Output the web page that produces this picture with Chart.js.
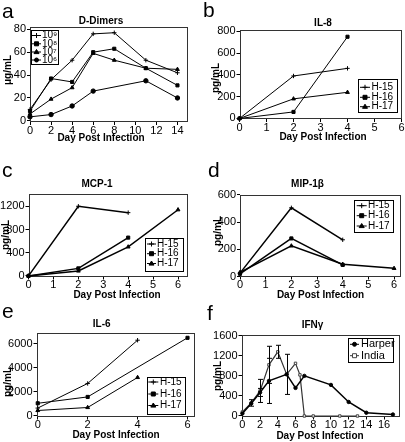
<!DOCTYPE html>
<html><head><meta charset="utf-8">
<script src="https://cdn.jsdelivr.net/npm/chart.js@4"></script>
<style>
body{margin:0;background:#fff;width:405px;height:442px;overflow:hidden;position:relative;font-family:"Liberation Sans",Arial,sans-serif;color:#000;}
canvas{position:absolute;}
.t{position:absolute;white-space:nowrap;transform:translate(-50%,-50%);line-height:1;font-weight:bold;font-size:10px;}
.y{transform:translate(-50%,-50%) rotate(-90deg);}
.lt{position:absolute;font-size:21px;line-height:1;}
</style></head><body>
<canvas id="ca"></canvas><canvas id="cb"></canvas><canvas id="cc"></canvas>
<canvas id="cd"></canvas><canvas id="ce"></canvas><canvas id="cf"></canvas>
<div class="lt" style="left:2px;top:0px">a</div>
<div class="lt" style="left:203px;top:-1px">b</div>
<div class="lt" style="left:2px;top:159px">c</div>
<div class="lt" style="left:208px;top:159px">d</div>
<div class="lt" style="left:2px;top:300px">e</div>
<div class="lt" style="left:207px;top:302px">f</div>
<div class="t" style="left:101px;top:20.5px">D-Dimers</div>
<div class="t" style="left:323px;top:22.5px">IL-8</div>
<div class="t" style="left:97px;top:183.5px">MCP-1</div>
<div class="t" style="left:307.5px;top:183.5px">MIP-1β</div>
<div class="t" style="left:101.7px;top:324px">IL-6</div>
<div class="t" style="left:312.5px;top:324.5px">IFNγ</div>
<div class="t" style="left:101px;top:137.5px">Day Post Infection</div>
<div class="t" style="left:323px;top:137px">Day Post Infection</div>
<div class="t" style="left:117px;top:294.5px">Day Post Infection</div>
<div class="t" style="left:320.5px;top:294.5px">Day Post Infection</div>
<div class="t" style="left:116px;top:434.5px">Day Post Infection</div>
<div class="t" style="left:320px;top:436px">Day Post Infection</div>
<div class="t y" style="left:8px;top:70px">μg/mL</div>
<div class="t y" style="left:216px;top:78px">pg/mL</div>
<div class="t y" style="left:5.5px;top:235px">pg/mL</div>
<div class="t y" style="left:217.5px;top:231px">pg/mL</div>
<div class="t y" style="left:7.5px;top:382px">pg/mL</div>
<div class="t y" style="left:217.5px;top:376px">pg/mL</div>
<script>
// ---------- data ----------
const dimerDays = [0,2,4,6,8,11,14];
const dimer1e9 = [10,36,53,76,77,53,42];
const dimer1e8 = [8.5,37,34,60,63,46,31];
const dimer1e7 = [6,19,29,59,53,46,45];
const dimer1e6 = [3.5,5.5,13,26,null,35,20];
const dimerLabels = ['10⁹','10⁸','10⁷','10⁶'];
const dimerXTicks = [0,2,4,6,8,10,12,14];
const dimerYTicks = [0,20,40,60,80];

const hLabels = ['H-15','H-16','H-17'];

const il8Days = [0,2,4];
const il8H15 = [0,390,460];
const il8H16 = [0,60,750];
const il8H17 = [0,180,240];
const il8XTicks = [0,1,2,3,4,5,6];
const il8YTicks = [0,200,400,600,800];

const mcpDays = [0,2,4,6];
const mcpH15 = [0,1200,1090,null];
const mcpH16 = [0,130,660,null];
const mcpH17 = [0,85,500,1140];
const mcpXTicks = [0,1,2,3,4,5,6];
const mcpYTicks = [0,400,800,1200];

const mipDays = [0,2,4,6];
const mipH15 = [25,505,270,null];
const mipH16 = [20,280,85,null];
const mipH17 = [30,225,90,60];
const mipXTicks = [0,1,2,3,4,5,6];
const mipYTicks = [0,200,400,600];

const il6Days = [0,2,4,6];
const il6H15 = [650,2700,6300,null];
const il6H16 = [1050,1580,null,6500];
const il6H17 = [450,700,3200,null];
const il6XTicks = [0,2,4,6];
const il6YTicks = [0,2000,4000,6000];

const ifnLabels = ['Harper','India'];
const ifnHarperDays = [0,1,2,3,5,6,7,10,12,14,17];
const ifnHarper =     [50,250,470,700,830,560,800,620,280,65,30];
const ifnHarperErr =  [0,0,80,450,0,0,0,0,0,0,0];
const ifnIndiaDays = [0,1,2,3,4,5,6,6.5,7,8,11,13];
const ifnIndia =     [80,260,500,1020,1280,830,1050,820,0,0,0,0];
const ifnIndiaErr =  [0,65,230,370,130,400,0,0,0,0,0,0];
const ifnXTicks = [0,2,4,6,8,10,12,14,16];
const ifnYTicks = [0,400,800,1200,1600];

// ---------- helpers ----------
const FONT = '"Liberation Sans", Arial, sans-serif';
function pts(xs, ys){ const o=[]; xs.forEach((x,i)=>{ if(ys[i]!==null && ys[i]!==undefined) o.push({x:x,y:ys[i]}); }); return o; }
function ds(label, xs, ys, style, opt){
  return Object.assign({label, data:pts(xs,ys), borderColor:'#000', backgroundColor:'#000',
    pointBackgroundColor:'#000', pointBorderColor:'#000', borderWidth:1, pointRadius:2.2,
    pointBorderWidth:1, pointStyle:style, tension:0, clip:false, fill:false}, opt||{});
}
function marker(ctx, style, x, y, r, fillC, strokeC){
  ctx.save(); ctx.fillStyle=fillC; ctx.strokeStyle=strokeC; ctx.lineWidth=1;
  ctx.beginPath();
  if(style==='cross'){ ctx.moveTo(x-r-0.5,y); ctx.lineTo(x+r+0.5,y); ctx.moveTo(x,y-r-0.5); ctx.lineTo(x,y+r+0.5); ctx.stroke(); }
  else if(style==='rect'){ ctx.rect(x-r,y-r,2*r,2*r); ctx.fill(); ctx.stroke(); }
  else if(style==='triangle'){ ctx.moveTo(x,y-r-0.5); ctx.lineTo(x+r+0.5,y+r*0.8); ctx.lineTo(x-r-0.5,y+r*0.8); ctx.closePath(); ctx.fill(); ctx.stroke(); }
  else { ctx.arc(x,y,r,0,Math.PI*2); ctx.fill(); ctx.stroke(); }
  ctx.restore();
}
const frame = {id:'frame', beforeDatasetsDraw(c){ const a=c.chartArea, x=c.ctx; x.save(); x.strokeStyle='#333'; x.lineWidth=1;
  x.strokeRect(Math.round(a.left)+0.5, Math.round(a.top)+0.5, Math.round(a.right)-Math.round(a.left)-1, Math.round(a.bottom)-Math.round(a.top)-1); x.restore(); }};
const errBars = {id:'errBars', afterDatasetsDraw(c, args, o){
  if(!o || !o.sets) return; const x=c.ctx, xs=c.scales.x, ys=c.scales.y;
  x.save(); x.strokeStyle='#000'; x.lineWidth=1;
  o.sets.forEach(s=>{ const d=c.data.datasets[s.ds].data;
    d.forEach((p,j)=>{ const e=s.err[j]; if(!e) return;
      const px=Math.round(xs.getPixelForValue(p.x))+0.5, y1=ys.getPixelForValue(p.y+e), y2=ys.getPixelForValue(p.y-e);
      x.beginPath(); x.moveTo(px,y1); x.lineTo(px,y2); x.moveTo(px-2.5,y1); x.lineTo(px+2.5,y1); x.moveTo(px-2.5,y2); x.lineTo(px+2.5,y2); x.stroke(); });
  });
  x.restore(); }};
const boxLegend = {id:'boxLegend', afterDraw(c, args, o){
  if(!o || !o.box) return; const x=c.ctx, b=o.box, off=o.off;
  x.save();
  x.fillStyle='#fff'; x.fillRect(b[0]-off[0], b[1]-off[1], b[2]-b[0], b[3]-b[1]);
  x.strokeStyle='#000'; x.lineWidth=1; x.strokeRect(Math.round(b[0]-off[0])+0.5, Math.round(b[1]-off[1])+0.5, Math.round(b[2]-b[0]), Math.round(b[3]-b[1]));
  x.font = o.font; x.textBaseline='middle'; x.textAlign='left';
  c.data.datasets.forEach((d,i)=>{
    const y=o.rows[i]-off[1];
    x.beginPath(); x.moveTo(o.lx[0]-off[0], y); x.lineTo(o.lx[1]-off[0], y); x.strokeStyle=d.borderColor; x.lineWidth=1; x.stroke();
    marker(x, d.pointStyle, (o.lx[0]+o.lx[1])/2-off[0], y, 2, d.pointBackgroundColor, d.pointBorderColor);
    x.fillStyle='#000'; x.fillText(d.label, o.tx-off[0], y);
  });
  x.restore(); }};

function mk(id, pos, plot, xr, yr, xt, yt, datasets, legend, err){
  const cv=document.getElementById(id);
  cv.style.left=pos[0]+'px'; cv.style.top=pos[1]+'px';
  cv.width=pos[2]; cv.height=pos[3]; cv.style.width=pos[2]+'px'; cv.style.height=pos[3]+'px';
  legend.off=[pos[0],pos[1]];
  const tickFont={family:FONT,size:11};
  new Chart(cv,{type:'line', data:{datasets},
    options:{responsive:false, animation:false, events:[],
      layout:{autoPadding:false, padding:{left:0, top:plot[1]-pos[1], right:pos[0]+pos[2]-plot[2], bottom:0}},
      plugins:{legend:{display:false}, tooltip:{enabled:false}, boxLegend:legend, errBars:err||{}},
      scales:{
        x:{type:'linear', min:xr[0], max:xr[1], afterFit(s){ s.height=pos[1]+pos[3]-plot[3]; },
           afterBuildTicks(s){ s.ticks=xt.map(v=>({value:v})); },
           grid:{drawOnChartArea:false, drawTicks:true, tickLength:3, color:'#000', lineWidth:1},
           border:{display:false},
           ticks:{font:tickFont, color:'#000', padding:-1, maxRotation:0, autoSkip:false, callback:v=>String(v)}},
        y:{type:'linear', min:yr[0], max:yr[1], afterFit(s){ s.width=plot[0]-pos[0]; },
           afterBuildTicks(s){ s.ticks=yt.map(v=>({value:v})); },
           grid:{drawOnChartArea:false, drawTicks:true, tickLength:3, color:'#000', lineWidth:1},
           border:{display:false},
           ticks:{font:tickFont, color:'#000', padding:1, autoSkip:false, callback:v=>String(v)}}
      }},
    plugins:[frame, errBars, boxLegend]});
}

// a
mk('ca',[0,0,200,145],[30,27,188,122],[0,15],[-1,82],dimerXTicks,dimerYTicks,[
  ds(dimerLabels[0],dimerDays,dimer1e9,'cross'),
  ds(dimerLabels[1],dimerDays,dimer1e8,'rect'),
  ds(dimerLabels[2],dimerDays,dimer1e7,'triangle'),
  ds(dimerLabels[3],dimerDays,dimer1e6,'circle')],
  {box:[31,29.5,58,63], rows:[35.5,43.8,52,60], lx:[32,41], tx:42, font:'10px '+FONT});
// b
mk('cb',[200,0,205,145],[239.5,30,401.5,119],[0,6],[-5,812],il8XTicks,il8YTicks,[
  ds(hLabels[0],il8Days,il8H15,'cross'),
  ds(hLabels[1],il8Days,il8H16,'rect'),
  ds(hLabels[2],il8Days,il8H17,'triangle')],
  {box:[358,79,397,112], rows:[87.3,97.3,106.7], lx:[360,370], tx:371.5, font:'10px '+FONT});
// c
mk('cc',[0,147,200,147],[28.5,193.5,188,276.5],[0,6.4],[-10,1420],mcpXTicks,mcpYTicks,[
  ds(hLabels[0],mcpDays,mcpH15,'cross',{borderWidth:1.5}),
  ds(hLabels[1],mcpDays,mcpH16,'rect',{borderWidth:1.5}),
  ds(hLabels[2],mcpDays,mcpH17,'triangle',{borderWidth:1.5})],
  {box:[145,238.3,183,271], rows:[244,253.7,263.5], lx:[147,156], tx:157, font:'10px '+FONT});
// d
mk('cd',[200,147,205,147],[240,194.5,400.5,276.5],[0,6.25],[0,603],mipXTicks,mipYTicks,[
  ds(hLabels[0],mipDays,mipH15,'cross',{borderWidth:1.5}),
  ds(hLabels[1],mipDays,mipH16,'rect',{borderWidth:1.5}),
  ds(hLabels[2],mipDays,mipH17,'triangle',{borderWidth:1.5})],
  {box:[354,200,393.3,232.3], rows:[205.7,215.7,226], lx:[356.7,366.7], tx:368, font:'10px '+FONT});
// e
mk('ce',[0,295,200,147],[36.5,333,195,416.5],[-0.05,6.3],[-50,6900],il6XTicks,il6YTicks,[
  ds(hLabels[0],il6Days,il6H15,'cross'),
  ds(hLabels[1],il6Days,il6H16,'rect'),
  ds(hLabels[2],il6Days,il6H17,'triangle')],
  {box:[146.7,376.7,185,413.3], rows:[382,394,405.5], lx:[148.3,158.3], tx:160, font:'10px '+FONT});
// f
mk('cf',[200,295,205,147],[241.5,334.5,400,416.5],[-0.1,17.8],[-10,1625],ifnXTicks,ifnYTicks,[
  ds(ifnLabels[0],ifnHarperDays,ifnHarper,'circle',{borderWidth:1.5, pointRadius:1.7}),
  ds(ifnLabels[1],ifnIndiaDays,ifnIndia,'rect',{pointRadius:1.7, pointBackgroundColor:'#fff', pointBorderColor:'#444', borderColor:'#333', borderWidth:1.2})],
  {box:[348,338,393,362], rows:[344.3,355.7], lx:[350,359], tx:361, font:'11px '+FONT},
  {sets:[{ds:0, err:ifnHarperErr},{ds:1, err:ifnIndiaErr}]});
</script>
</body></html>
